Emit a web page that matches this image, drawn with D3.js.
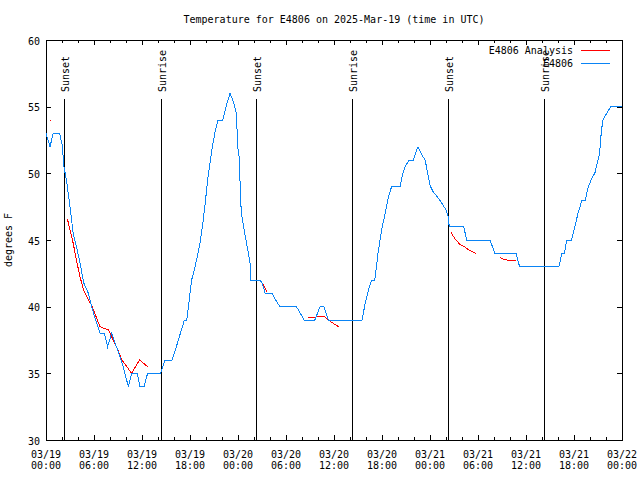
<!DOCTYPE html>
<html><head><meta charset="utf-8">
<script src="https://cdn.jsdelivr.net/npm/d3@7"></script>
<style>
html,body{margin:0;padding:0;background:#fff;}
text{font-family:"DejaVu Sans Mono",monospace;font-size:10px;fill:#000;}
</style></head>
<body>
<svg id="c" width="640" height="480"></svg>
<script>
// ---- data (hours since 2025-03-19 00:00 UTC) ----
const startTime = Date.UTC(2025, 2, 19, 0, 0);
const endTime = Date.UTC(2025, 2, 22, 0, 0);
const obsHours = [0,0.5,0.9,1.7,2.0,2.25,2.6,3.0,3.4,3.8,4.25,4.7,5.3,5.7,6.1,6.5,6.75,7.3,7.7,8.2,8.8,9.5,10.3,10.7,11.4,11.75,12.25,12.7,14.3,14.9,15.75,16.3,16.8,17.3,17.6,17.9,18.2,18.6,18.9,19.25,19.6,19.9,20.2,20.5,20.8,21.1,21.5,22.1,22.5,23.0,23.4,23.8,23.96,24.2,24.3,24.5,24.7,25.0,25.3,25.5,25.6,26.75,27.0,27.4,28.3,28.7,29.25,31.3,31.8,32.25,33.6,34.0,34.25,34.75,35.3,39.5,39.9,40.3,40.7,41.1,41.5,41.95,42.4,42.8,43.2,44.25,44.6,44.9,45.4,45.9,46.5,46.95,47.4,47.7,48.0,48.4,48.9,49.5,50.0,50.3,50.4,52.2,52.6,55.5,56.1,58.75,59.2,64.1,64.5,64.8,65.1,65.7,66.1,66.5,67.0,67.4,67.8,68.2,68.6,68.9,69.2,69.4,69.6,70.1,70.6,72];
const obsTemps = [53,52,53,53,52.2,50.5,49.3,47.5,45.5,44.5,43.3,41.8,41,40,39.2,38.5,38,38,37,38,37,35.8,34,35,35,34,34,35,35,36,36,37,38,39,39,40.5,42,42.9,43.75,44.75,46.25,47.75,49.5,50.75,52,53,54,54,55,56,55.4,54.5,52,51,48,46.75,46,45,44,43.3,42,42,41.8,41,41,40.5,40,40,39.5,39,39,39.6,40,40,39,39,40.25,41.25,42,42,44,45.75,47,48.25,49,49,50,50.5,51,51,52,51.4,51,50,49.1,48.6,48.25,47.75,47.25,46.7,46,46,45,45,44,44,43,43,44,44,45,45,46,47,48,48,49,49.6,50,50.75,51.5,53,54,54.5,55,55];
// analysis series; null = gap
const anaHours = [0.5,0.6,null,2.67,3.0,3.4,3.8,4.25,4.7,5.3,5.7,6.1,6.75,7.8,8.2,8.8,9.5,10.1,10.7,11.7,12.7,null,26.75,27.2,27.6,null,32.8,33.6,34.25,34.75,35.3,35.9,36.7,null,50.6,51.1,51.7,52.4,53.0,53.7,null,56.7,57.2,57.6,58.75];
const anaTemps = [54,54,null,46.6,45.75,44.75,43.5,42.25,41.25,40.5,40.1,39.5,38.5,38.25,37.75,37,36,35.5,35,36,35.5,null,42,41.6,41.1,null,39.2,39.2,39.3,39.3,39,38.75,38.45,null,45.6,45.1,44.7,44.45,44.2,44,null,43.7,43.55,43.5,43.5];
const eventNames = ["Sunset","Sunrise","Sunset","Sunrise","Sunset","Sunrise"];
const eventHours = [2.25,14.375,26.25,38.25,50.25,62.25];
const yTicks = [30,35,40,45,50,55,60];
const seriesNames = ["E4806 Analysis","E4806"];
const seriesColors = ["#ff0000","#0a84f5"];
const titleText = "Temperature for E4806 on 2025-Mar-19 (time in UTC)";
const yLabelText = "degrees F";

// ---- layout ----
const svg = d3.select("#c");
const L = 46, R = 622, T = 40, B = 440;
const hr = h => new Date(startTime + h * 3600000);
const x = d3.scaleUtc().domain([new Date(startTime), new Date(endTime)]).range([L, R]);
const y = d3.scaleLinear().domain([30, 60]).range([B, T]);

svg.append("text").attr("x", (L + R) / 2).attr("y", 23).attr("text-anchor", "middle").text(titleText);
svg.append("text").attr("transform", `translate(12,${(T + B) / 2}) rotate(-90)`).attr("text-anchor", "middle").text(yLabelText);

const g = svg.append("g").attr("shape-rendering", "crispEdges").attr("stroke", "#000").attr("stroke-width", 1);

// x ticks
const minor = d3.utcHour.every(2).range(new Date(startTime), new Date(endTime + 1));
const major = d3.utcHour.every(6).range(new Date(startTime), new Date(endTime + 1));
minor.forEach(d => {
  const px = Math.round(x(d)) + 0.5;
  g.append("line").attr("x1", px).attr("x2", px).attr("y1", B).attr("y2", B - 3);
  g.append("line").attr("x1", px).attr("x2", px).attr("y1", T).attr("y2", T + 3);
});
major.forEach(d => {
  const px = Math.round(x(d)) + 0.5;
  g.append("line").attr("x1", px).attr("x2", px).attr("y1", B).attr("y2", B - 5);
  g.append("line").attr("x1", px).attr("x2", px).attr("y1", T).attr("y2", T + 5);
  svg.append("text").attr("x", x(d)).attr("y", 457.5).attr("text-anchor", "middle").text(d3.utcFormat("%m/%d")(d));
  svg.append("text").attr("x", x(d)).attr("y", 469).attr("text-anchor", "middle").text(d3.utcFormat("%H:%M")(d));
});
// y ticks
yTicks.forEach(v => {
  const py = Math.round(y(v)) + 0.5;
  g.append("line").attr("x1", L).attr("x2", L + 5).attr("y1", py).attr("y2", py);
  g.append("line").attr("x1", R).attr("x2", R - 5).attr("y1", py).attr("y2", py);
  svg.append("text").attr("x", 40).attr("y", y(v) + 4.5).attr("text-anchor", "end").text(v);
});

// event lines
eventHours.forEach((h, i) => {
  const px = Math.round(x(hr(h))) + 0.5;
  g.append("line").attr("x1", px).attr("x2", px).attr("y1", B).attr("y2", y(55.6));
  svg.append("text").attr("transform", `translate(${px + 4.5},92) rotate(-90)`).attr("text-anchor", "start").text(eventNames[i]);
});

// series
const line = d3.line().defined(d => d.v !== null).x(d => x(hr(d.h))).y(d => y(d.v));
const ana = anaHours.map((h, i) => ({h: h, v: anaTemps[i]}));
const obs = obsHours.map((h, i) => ({h: h, v: obsTemps[i]}));
svg.append("path").datum(ana).attr("d", line).attr("fill", "none").attr("stroke", seriesColors[0]).attr("stroke-width", 1).attr("shape-rendering", "crispEdges");
svg.append("path").datum(obs).attr("d", line).attr("fill", "none").attr("stroke", seriesColors[1]).attr("stroke-width", 1).attr("shape-rendering", "crispEdges");

// frame
g.append("rect").attr("x", L + 0.5).attr("y", T + 0.5).attr("width", R - L).attr("height", B - T).attr("fill", "none");

// legend
seriesNames.forEach((n, i) => {
  const ly = 49.5 + i * 13;
  svg.append("text").attr("x", 573).attr("y", ly + 4).attr("text-anchor", "end").text(n);
  svg.append("line").attr("x1", 581).attr("x2", 610).attr("y1", Math.round(ly) + 0.5).attr("y2", Math.round(ly) + 0.5)
    .attr("stroke", seriesColors[i]).attr("stroke-width", 1).attr("shape-rendering", "crispEdges");
});
</script>
</body></html>
